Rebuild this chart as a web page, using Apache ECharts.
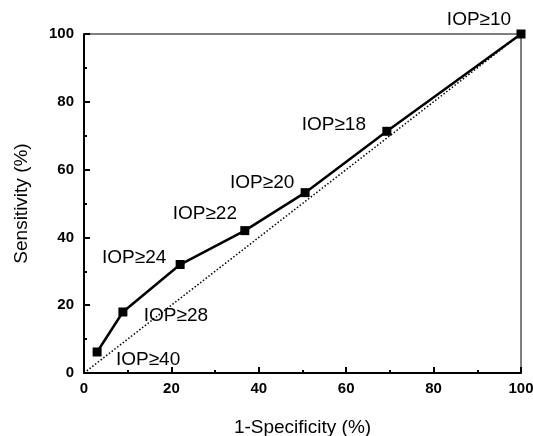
<!DOCTYPE html>
<html>
<head>
<meta charset="utf-8">
<script src="https://cdn.jsdelivr.net/npm/echarts@6/dist/echarts.min.js"></script>
<style>
  html, body { margin: 0; padding: 0; background: #fff; }
  #main { width: 533px; height: 436px; }
</style>
</head>
<body>
<div id="main"></div>
<script>
// ROC points (1-specificity %, sensitivity %)
var fpr = [3.0, 8.9, 22.0, 36.8, 50.6, 69.3, 100];
var tpr = [6.2, 18.0, 32.0, 42.0, 53.2, 71.3, 100];
var cutoffs = ['IOP≥40', 'IOP≥28', 'IOP≥24', 'IOP≥22', 'IOP≥20', 'IOP≥18', 'IOP≥10'];
var diagX = [0, 100];
var diagY = [0, 100];
var tickLabels = ['0', '20', '40', '60', '80', '100'];

// label offsets from each marker (px)
var labelOffsets = [[51, 8], [53, 4], [-46, -7], [-40, -17], [-43, -10], [-53, -7], [-42, -14]];

var chart = echarts.init(document.getElementById('main'));

var rocData = [];
for (var i = 0; i < fpr.length; i++) {
  rocData.push({
    value: [fpr[i], tpr[i]],
    name: cutoffs[i],
    label: { offset: labelOffsets[i] }
  });
}
var diagData = [];
for (var j = 0; j < diagX.length; j++) {
  diagData.push([diagX[j], diagY[j]]);
}

var option = {
  backgroundColor: '#ffffff',
  animation: false,
  grid: {
    left: 84, right: 12, top: 34, bottom: 63,
    outerBoundsMode: 'none',
    containLabel: false,
    show: true, borderColor: '#000', borderWidth: 1
  },
  xAxis: {
    type: 'value', min: 0, max: 100, interval: 20,
    name: '1-Specificity (%)', nameLocation: 'middle', nameGap: 45,
    nameTextStyle: { fontFamily: 'Liberation Sans, Arial', fontSize: 19, color: '#000' },
    axisLine: { lineStyle: { color: '#000', width: 2 } },
    axisTick: { inside: true, length: 6, lineStyle: { color: '#000', width: 2 } },
    minorTick: { show: true, splitNumber: 2, length: 3, lineStyle: { color: '#000', width: 2 } },
    splitLine: { show: false },
    axisLabel: {
      margin: 8, fontFamily: 'Liberation Sans, Arial', fontSize: 15, fontWeight: 'bold', color: '#000',
      formatter: function (v) { return tickLabels[v / 20]; }
    }
  },
  yAxis: {
    type: 'value', min: 0, max: 100, interval: 20,
    name: 'Sensitivity (%)', nameLocation: 'middle', nameGap: 53,
    nameTextStyle: { fontFamily: 'Liberation Sans, Arial', fontSize: 19, color: '#000' },
    axisLine: { lineStyle: { color: '#000', width: 2 } },
    axisTick: { inside: true, length: 6, lineStyle: { color: '#000', width: 2 } },
    minorTick: { show: true, splitNumber: 2, length: 3, lineStyle: { color: '#000', width: 2 } },
    splitLine: { show: false },
    axisLabel: {
      margin: 10, fontFamily: 'Liberation Sans, Arial', fontSize: 15, fontWeight: 'bold', color: '#000',
      formatter: function (v) { return tickLabels[v / 20]; }
    }
  },
  series: [
    {
      type: 'line',
      data: diagData,
      symbol: 'none',
      lineStyle: { color: '#000', width: 1.5, type: [1.5, 2] },
      z: 1
    },
    {
      type: 'line',
      data: rocData,
      symbol: 'rect',
      symbolSize: 9,
      itemStyle: { color: '#000' },
      lineStyle: { color: '#000', width: 2.5 },
      label: {
        show: true,
        position: 'inside',
        formatter: '{b}',
        fontFamily: 'Liberation Sans, Arial',
        fontSize: 19,
        color: '#000'
      },
      z: 3
    }
  ]
};
chart.setOption(option);
</script>
</body>
</html>
